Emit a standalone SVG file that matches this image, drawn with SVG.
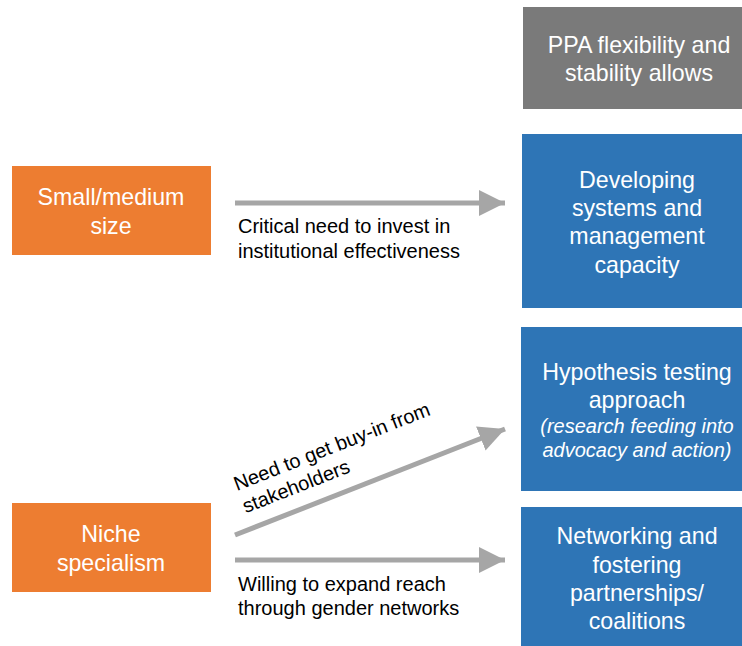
<svg xmlns="http://www.w3.org/2000/svg" width="742" height="646" viewBox="0 0 742 646">
<style>
.t{font-family:"Liberation Sans",Arial,sans-serif;font-size:23.2px;fill:#fff;text-anchor:middle}
.i{font-family:"Liberation Sans",Arial,sans-serif;font-size:20px;fill:#fff;text-anchor:middle;font-style:italic}
.l{font-family:"Liberation Sans",Arial,sans-serif;font-size:20px;fill:#000}
.c{stroke:#a6a6a6;stroke-width:5;fill:none}
</style>
<defs>
<marker id="ah" markerUnits="userSpaceOnUse" markerWidth="26" markerHeight="26" refX="26" refY="13" orient="auto">
<path d="M0,0 L26,13 L0,26 Z" fill="#a6a6a6"/>
</marker>
</defs>
<rect width="742" height="646" fill="#fff"/>
<g id="ppa">
<rect x="523" y="7" width="219" height="102" fill="#7a7a7a"/>
<text class="t" x="639" y="53">PPA flexibility and</text>
<text class="t" x="639" y="81">stability allows</text>
</g>
<g id="systems">
<rect x="522" y="134" width="220" height="174" fill="#2e75b6"/>
<text class="t" x="637" y="188">Developing</text>
<text class="t" x="637" y="216">systems and</text>
<text class="t" x="637" y="244">management</text>
<text class="t" x="637" y="273">capacity</text>
</g>
<g id="hypothesis">
<rect x="521" y="327" width="221" height="164" fill="#2e75b6"/>
<text class="t" x="637" y="380">Hypothesis testing</text>
<text class="t" x="637" y="408">approach</text>
<text class="i" x="637" y="433">(research feeding into</text>
<text class="i" x="637" y="457">advocacy and action)</text>
</g>
<g id="networking">
<rect x="521" y="507" width="221" height="139" fill="#2e75b6"/>
<text class="t" x="637" y="544">Networking and</text>
<text class="t" x="637" y="573">fostering</text>
<text class="t" x="637" y="601">partnerships/</text>
<text class="t" x="637" y="629">coalitions</text>
</g>
<g id="small">
<rect x="12" y="166" width="199" height="89" fill="#ed7d31"/>
<text class="t" x="111" y="205">Small/medium</text>
<text class="t" x="111" y="234">size</text>
</g>
<g id="niche">
<rect x="12" y="503" width="199" height="89" fill="#ed7d31"/>
<text class="t" x="111" y="542">Niche</text>
<text class="t" x="111" y="571">specialism</text>
</g>
<g id="connectors">
<line class="c" x1="235" y1="203" x2="505" y2="203" marker-end="url(#ah)"/>
<line class="c" x1="235" y1="535" x2="505" y2="429" marker-end="url(#ah)"/>
<line class="c" x1="235" y1="560" x2="505" y2="560" marker-end="url(#ah)"/>
<text class="l" x="238" y="233">Critical need to invest in</text>
<text class="l" x="238" y="258">institutional effectiveness</text>
<g transform="translate(237,491) rotate(-21.4)">
<text class="l" x="0" y="0">Need to get buy-in from</text>
<text class="l" x="0" y="24">stakeholders</text>
</g>
<text class="l" x="238" y="591">Willing to expand reach</text>
<text class="l" x="238" y="615">through gender networks</text>
</g>
</svg>
